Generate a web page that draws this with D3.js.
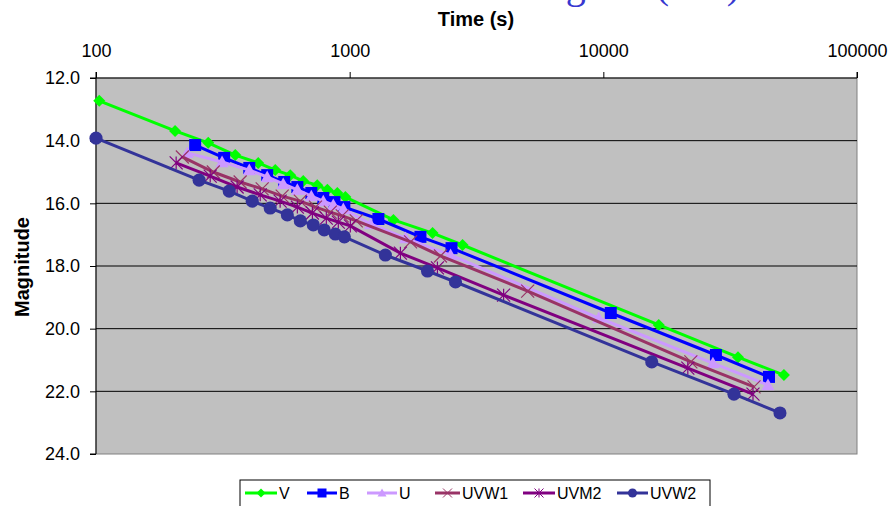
<!DOCTYPE html>
<html>
<head>
<meta charset="utf-8">
<script src="https://cdn.jsdelivr.net/npm/d3@7"></script>
<style>
  body { margin: 0; background: #fff; }
  svg { display: block; font-family: "Liberation Sans", Arial, sans-serif; }
</style>
</head>
<body>
<div id="chart"></div>
<script>
// values (time in s, magnitude)
const seriesNames = ["V", "B", "U", "UVW1", "UVM2", "UVW2"];

const vTime = [103, 205, 277, 354, 436, 509, 583, 656, 745, 817, 894, 962, 1488, 2122, 2786, 16540, 33950, 51520];
const vMag  = [12.73, 13.69, 14.07, 14.46, 14.71, 14.94, 15.10, 15.29, 15.42, 15.57, 15.67, 15.80, 16.53, 16.95, 17.33, 19.88, 20.91, 21.48];

const bTime = [246, 320, 402, 473, 552, 622, 706, 787, 871, 953, 1298, 1901, 2521, 10700, 27790, 44980];
const bMag  = [14.14, 14.55, 14.87, 15.10, 15.32, 15.48, 15.67, 15.83, 15.96, 16.12, 16.50, 17.07, 17.43, 19.50, 20.84, 21.54];

const uTime = [229, 314, 402, 473, 547, 622, 706, 787, 862, 944, 1207, 1660, 2499, 9590, 27040, 44570];
const uMag  = [14.39, 14.68, 14.94, 15.16, 15.38, 15.57, 15.77, 15.93, 16.05, 16.18, 16.66, 17.11, 17.65, 19.66, 21.10, 21.80];

const w1Time = [219, 290, 370, 452, 542, 639, 733, 839, 935, 1062, 1738, 2280, 5032, 22130, 39260];
const w1Mag  = [14.52, 15.00, 15.32, 15.54, 15.77, 15.93, 16.12, 16.28, 16.40, 16.56, 17.23, 17.68, 18.80, 21.06, 21.86];

const m2Time = [207, 282, 360, 444, 532, 622, 713, 809, 902, 1006, 1585, 2218, 4045, 21530, 38900];
const m2Mag  = [14.71, 15.13, 15.48, 15.73, 15.93, 16.12, 16.31, 16.47, 16.60, 16.72, 17.59, 18.06, 18.93, 21.26, 22.09];

const w2Time = [100, 255, 335, 413, 486, 568, 639, 719, 794, 878, 953, 1383, 2027, 2614, 15520, 32730, 49700];
const w2Mag  = [13.92, 15.26, 15.61, 15.93, 16.15, 16.37, 16.56, 16.69, 16.85, 16.98, 17.07, 17.65, 18.16, 18.51, 21.06, 22.09, 22.69];

const xTicks = [100, 1000, 10000, 100000];
const yTicks = [12, 14, 16, 18, 20, 22, 24];

const series = [
  {name: "V",    color: "#00ff00", marker: "diamond",  t: vTime,  m: vMag},
  {name: "B",    color: "#0000ff", marker: "square",   t: bTime,  m: bMag},
  {name: "U",    color: "#cc99ff", marker: "triangle", t: uTime,  m: uMag},
  {name: "UVW1", color: "#993366", marker: "x",        t: w1Time, m: w1Mag},
  {name: "UVM2", color: "#800080", marker: "star",     t: m2Time, m: m2Mag},
  {name: "UVW2", color: "#333399", marker: "circle",   t: w2Time, m: w2Mag}
];

const W = 888, H = 506;
const margin = {top: 78, right: 31, bottom: 52, left: 96};
const width = W - margin.left - margin.right;
const height = H - margin.top - margin.bottom;

const svg = d3.select("#chart").append("svg")
  .attr("width", W).attr("height", H);

// clipped title at the very top
svg.append("text")
  .attr("x", 482).attr("y", -2)
  .attr("font-family", "'Liberation Serif', 'Times New Roman', serif")
  .attr("font-size", 40)
  .attr("fill", "#3838d0")
  .text("Afterglow (UV)");

const g = svg.append("g").attr("transform", `translate(${margin.left},${margin.top})`);

const x = d3.scaleLog().domain([100, 100000]).range([0, width]);
const y = d3.scaleLinear().domain([12, 24]).range([0, height]);

// plot area
g.append("rect")
  .attr("width", width).attr("height", height)
  .attr("fill", "#c0c0c0").attr("stroke", "#808080");

// gridlines
g.append("g").selectAll("line")
  .data(yTicks.slice(1, -1))
  .join("line")
  .attr("x1", 0).attr("x2", width)
  .attr("y1", d => y(d)).attr("y2", d => y(d))
  .attr("stroke", "#000").attr("stroke-width", 1);

// axes
const xAxis = d3.axisTop(x).tickValues(xTicks).tickFormat(d3.format("d")).tickSize(6).tickPadding(15);
const yAxis = d3.axisLeft(y).tickValues(yTicks).tickFormat(d3.format(".1f")).tickSize(6).tickPadding(10);

g.append("g").attr("class", "x-axis").call(xAxis)
  .call(a => a.select(".domain").attr("d", `M0,-6V0H${width}V-6`))
  .selectAll("text").attr("font-size", 18).attr("fill", "#000").attr("font-family", "'Liberation Sans', Arial, sans-serif");
g.append("g").attr("class", "y-axis").call(yAxis)
  .call(a => a.select(".domain").attr("d", `M-6,0H0V${height}H-6`))
  .selectAll("text").attr("font-size", 18).attr("fill", "#000").attr("font-family", "'Liberation Sans', Arial, sans-serif");

// axis titles
svg.append("text")
  .attr("x", 476).attr("y", 26)
  .attr("text-anchor", "middle")
  .attr("font-weight", "bold").attr("font-size", 20)
  .text("Time (s)");
svg.append("text")
  .attr("transform", "translate(29,267) rotate(-90)")
  .attr("text-anchor", "middle")
  .attr("font-weight", "bold").attr("font-size", 20)
  .text("Magnitude");

// marker shapes
function markerPath(type, s) {
  const h = s / 2;
  if (type === "diamond") return `M0,${-h}L${h},0L0,${h}L${-h},0Z`;
  if (type === "square") return `M${-h},${-h}H${h}V${h}H${-h}Z`;
  if (type === "triangle") return `M0,${-h}L${h},${h * 0.8}L${-h},${h * 0.8}Z`;
  if (type === "x") return `M${-h},${-h}L${h},${h}M${-h},${h}L${h},${-h}`;
  if (type === "star") return `M${-h},${-h}L${h},${h}M${-h},${h}L${h},${-h}M0,${-h}V${h}`;
  return d3.symbol(d3.symbolCircle, s * s * 0.8)();
}
const stroked = t => t === "x" || t === "star";
const markerSize = {diamond: 12, square: 12, triangle: 13, x: 13, star: 13, circle: 13};

const line = d3.line().x(d => x(d[0])).y(d => y(d[1]));

series.forEach(s => {
  const pts = s.t.map((t, i) => [t, s.m[i]]);
  const sg = g.append("g").attr("class", "series");
  sg.append("path")
    .datum(pts)
    .attr("d", line)
    .attr("fill", "none")
    .attr("stroke", s.color)
    .attr("stroke-width", 3);
  sg.selectAll("path.mk")
    .data(pts)
    .join("path")
    .attr("class", "mk")
    .attr("transform", d => `translate(${x(d[0])},${y(d[1])})`)
    .attr("d", markerPath(s.marker, markerSize[s.marker]))
    .attr("fill", stroked(s.marker) ? "none" : s.color)
    .attr("stroke", s.color)
    .attr("stroke-width", stroked(s.marker) ? 1.2 : 0);
});

// legend
const legend = svg.append("g").attr("transform", "translate(240,480)");
legend.append("rect")
  .attr("width", 470).attr("height", 28)
  .attr("fill", "#fff").attr("stroke", "#000");
const legendX = [5, 67, 127, 195, 283, 377];
const legendW = [32, 30, 30, 25, 32, 31];
series.forEach((s, i) => {
  const item = legend.append("g").attr("transform", `translate(${legendX[i]},13)`);
  item.append("line")
    .attr("x1", 0).attr("x2", legendW[i])
    .attr("stroke", s.color).attr("stroke-width", 3);
  item.append("path")
    .attr("transform", `translate(${legendW[i] / 2},0)`)
    .attr("d", markerPath(s.marker, 9))
    .attr("fill", stroked(s.marker) ? "none" : s.color)
    .attr("stroke", s.color)
    .attr("stroke-width", stroked(s.marker) ? 1 : 0);
  item.append("text")
    .attr("x", legendW[i] + 2).attr("y", 6)
    .attr("font-size", 16)
    .text(s.name);
});
</script>
</body>
</html>
